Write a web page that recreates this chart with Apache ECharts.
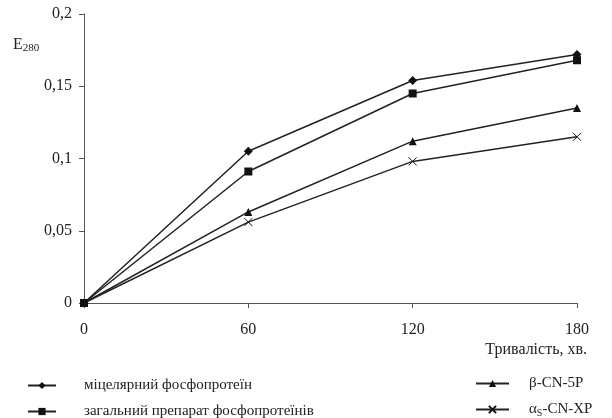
<!DOCTYPE html>
<html>
<head>
<meta charset="UTF-8">
<script src="https://cdn.jsdelivr.net/npm/echarts@6/dist/echarts.min.js"></script>
<style>
  html, body { margin: 0; padding: 0; background: #fff; }
  #main { width: 612px; height: 418px; }
</style>
</head>
<body>
<div id="main"></div>
<script>
var times = [0, 60, 120, 180];
var micel = [0, 0.105, 0.154, 0.172];
var total = [0, 0.091, 0.145, 0.168];
var betaCN = [0, 0.063, 0.112, 0.135];
var alphaCN = [0, 0.056, 0.098, 0.115];
var yTicks = [0, 0.05, 0.1, 0.15, 0.2];

var names = ['міцелярний фосфопротеїн', 'загальний препарат фосфопротеїнів', 'β-CN-5P', 'αS-CN-XP'];
var crossPath = 'path://M0,0L10,10M10,0L0,10';

function pairs(arr) {
    return times.map(function (t, i) { return [t, arr[i]]; });
}

var font = 'Liberation Serif';
var chart = echarts.init(document.getElementById('main'));

function mkSeries(name, arr, symbol, size) {
    return {
        name: name,
        type: 'line',
        data: pairs(arr),
        symbol: symbol,
        symbolSize: size,
        showSymbol: true,
        lineStyle: { color: '#222', width: 1.5 },
        itemStyle: { color: '#111', borderColor: '#111', borderWidth: symbol === crossPath ? 1 : 0 },
        emphasis: { disabled: true },
        animation: false
    };
}

// one legend per item so the layout matches the two-column block under the chart
function mkLegend(name, left, top, w, gap) {
    return {
        data: [name],
        left: left, top: top,
        itemWidth: w, itemHeight: 9,
        selectedMode: false,
        formatter: function (n) {
            if (n === names[3]) return 'α{sub|S}-CN-XP';
            return n;
        },
        textStyle: {
            fontFamily: font, fontSize: 15, color: '#222', padding: [0, 0, 0, gap],
            rich: { sub: { fontFamily: font, fontSize: 10, color: '#222', padding: [7, 0, 0, 0] } }
        }
    };
}

var option = {
    textStyle: { fontFamily: font },
    grid: { left: 84, right: 35, top: 14, bottom: 115 },
    xAxis: {
        type: 'value',
        min: 0, max: 180, interval: 60,
        name: 'Тривалість, хв.',
        nameLocation: 'end',
        nameGap: 0,
        nameTextStyle: { fontFamily: font, fontSize: 16, color: '#222', align: 'right', verticalAlign: 'top', padding: [39, -10, 0, 0] },
        axisLine: { lineStyle: { color: '#555', width: 1 } },
        axisTick: { show: true, length: 5, lineStyle: { color: '#555' } },
        axisLabel: { fontFamily: font, fontSize: 16, color: '#222', margin: 19 },
        splitLine: { show: false }
    },
    yAxis: {
        type: 'value',
        min: 0, max: 0.2, interval: 0.05,
        axisLine: { show: true, lineStyle: { color: '#555', width: 1 } },
        axisTick: { show: true, length: 5, lineStyle: { color: '#555' } },
        axisLabel: {
            fontFamily: font, fontSize: 16, color: '#222', margin: 12,
            formatter: function (v) {
                var s = yTicks.indexOf(v) >= 0 ? String(v) : '';
                return s.replace('.', ',');
            }
        },
        splitLine: { show: false }
    },
    legend: [
        mkLegend(names[0], 22, 373, 28, 23),
        mkLegend(names[1], 22, 399, 28, 23),
        mkLegend(names[2], 470, 371, 33, 15),
        mkLegend(names[3], 470, 397, 33, 15)
    ],
    graphic: [{
        type: 'text',
        left: 13, top: 37,
        style: {
            text: 'E{sub|280}',
            fontFamily: font, fontSize: 16, fill: '#222',
            rich: { sub: { fontFamily: font, fontSize: 11, fill: '#222', padding: [7, 0, 0, 0] } }
        }
    }],
    series: [
        mkSeries(names[0], micel, 'diamond', 9),
        mkSeries(names[1], total, 'rect', 8),
        mkSeries(names[2], betaCN, 'triangle', 8),
        mkSeries(names[3], alphaCN, crossPath, 8)
    ]
};

chart.setOption(option);
</script>
</body>
</html>
